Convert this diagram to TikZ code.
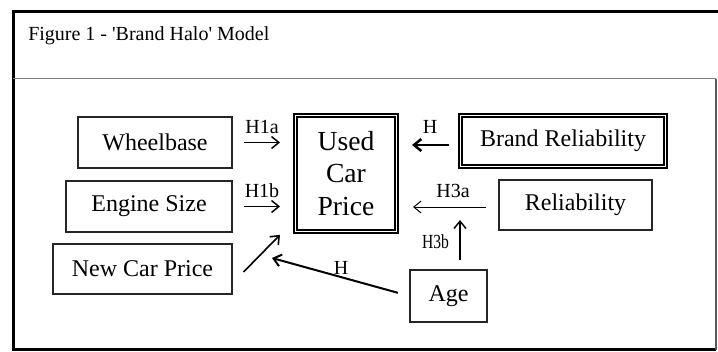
\documentclass[tikz,border=0pt]{standalone}
\usepackage{fontspec}
\setmainfont{Liberation Serif}
% a copy of the serif without TeX ligatures, so ' stays a straight quote
\newfontfamily\plainserif{Liberation Serif}
\usetikzlibrary{arrows.meta,calc}

\tikzset{
  plainbox/.style={draw=black!85, line width=0.8pt, inner sep=0pt, align=center,
    font=\fontsize{18}{21}\selectfont},
  heavybox/.style={draw=black, line width=1.5pt, inner sep=0pt, align=center,
    font=\fontsize{18}{21}\selectfont},
  innerframe/.style={draw=black, line width=1.2pt},
  hlabel/.style={inner sep=0pt, anchor=base, font=\fontsize{15}{17}\selectfont},
  arr/.style={-{Straight Barb[length=5.5pt,width=9pt]}, line width=1.1pt},
  frameline/.style={line width=2.25pt, black},
}

\begin{document}
\begin{tikzpicture}[x=0.75pt,y=-0.75pt]
\useasboundingbox (0,0) rectangle (718,351);

% page frame and caption panel
\draw[frameline] (11.5,11.5) -- (718,11.5);
\draw[frameline] (13,10.5) -- (13,351);
\draw[frameline] (11.5,349.5) -- (716,349.5);
\draw[gray, line width=0.6pt] (13,78.5) -- (716,78.5);
\draw[black!65, line width=1.5pt] (716,78.5) -- (716,349.5);

\node[anchor=base west, inner sep=0pt, font=\plainserif\fontsize{15}{18}\selectfont]
  (title) at (28,40) {Figure 1 - 'Brand Halo' Model};

% variables
\node[plainbox, minimum width=115.5pt, minimum height=38.25pt] (wb) at (155,142.5) {Wheelbase};
\node[plainbox, minimum width=124.5pt, minimum height=38.25pt] (es) at (149,206.5) {Engine Size};
\node[plainbox, minimum width=134.25pt, minimum height=37.5pt] (ncp) at (142.5,269) {New Car Price};
\node[heavybox, minimum width=78pt, minimum height=89pt,
  font=\fontsize{20.7}{24.4}\selectfont] (ucp) at (346,173.5) {Used\\Car\\Price};
\node[heavybox, minimum width=156pt, minimum height=40.5pt] (br) at (563,141) {Brand Reliability};
\node[plainbox, minimum width=114.75pt, minimum height=37.5pt] (rel) at (575.5,205) {Reliability};
\node[plainbox, minimum width=57.75pt, minimum height=39pt] (age) at (448.5,296) {Age};

% inner rule of the double-framed boxes
\draw[innerframe] ($(ucp.north west)+(3.8,3.8)$) rectangle ($(ucp.south east)+(-3.8,-3.8)$);
\draw[innerframe] ($(br.north west)+(3.8,3.8)$) rectangle ($(br.south east)+(-3.8,-3.8)$);

% hypotheses
\draw[arr, shorten <=8.25pt, shorten >=9.75pt] (wb.east) -- (wb.east -| ucp.west);
\draw[arr, shorten <=8.25pt, shorten >=9.75pt] (es.east) -- (es.east -| ucp.west);
\draw[arr, line width=1.2pt] ([xshift=8.25pt,yshift=-2.25pt]ncp.east) -- ([xshift=-9.75pt,yshift=-0.75pt]ucp.south west);
\draw[arr, line width=1.9pt, shorten <=6.75pt, shorten >=9.75pt]
  ([yshift=-3pt]br.west) -- ([yshift=-3pt]br.west -| ucp.east);
\draw[arr, line width=0.75pt, shorten <=9pt, shorten >=10.5pt]
  ([yshift=-1.5pt]rel.west) -- ([yshift=-1.5pt]rel.west -| ucp.east);
\coordinate (modA) at (460,220);
\draw[arr, shorten <=6.75pt] (age.north -| modA) -- (modA);
\coordinate (modB) at (272,258);
\draw[arr, line width=1.5pt, shorten <=9pt] (age.west) -- (modB);

% hypothesis labels
\node[hlabel] (h1a) at (262,133) {H1a};
\node[hlabel] (h1b) at (262,197) {H1b};
\node[hlabel] (h2) at (430,133) {H};
\node[hlabel] (h3a) at (453,197) {H3a};
\node[hlabel] (h3b) at (435.5,248) {\scalebox{0.78}[1]{H3b}};
\node[hlabel] (h4) at (341,274) {H};
\end{tikzpicture}
\end{document}
